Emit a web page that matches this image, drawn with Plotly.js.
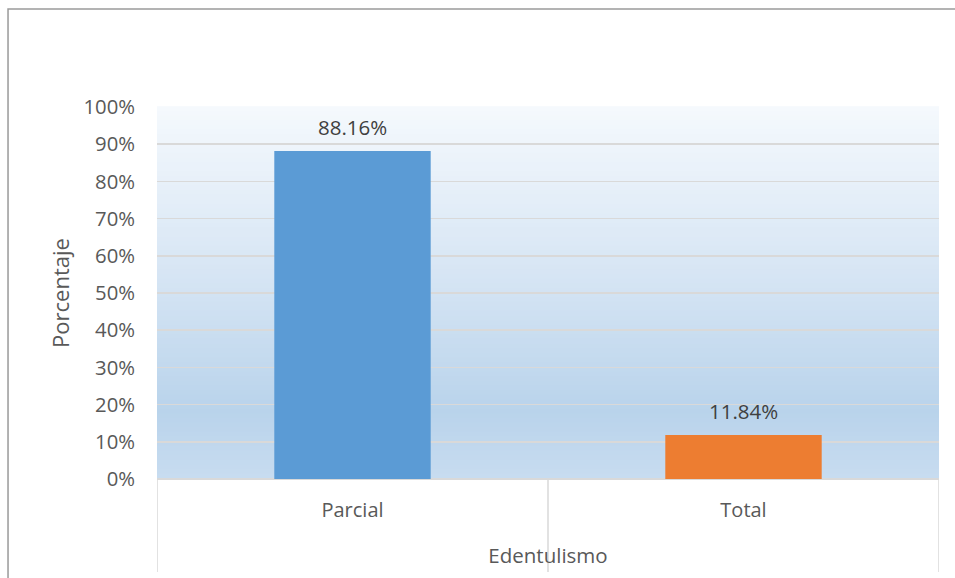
<!DOCTYPE html>
<html>
<head>
<meta charset="utf-8">
<script src="https://cdn.plot.ly/plotly-3.0.1.min.js"></script>
<style>
html,body{margin:0;padding:0;background:#fff;}
#chart{width:955px;height:578px;}
</style>
</head>
<body>
<div id="chart"></div>
<script>
// Data
const categories = ["Parcial", "Total"];
const values = [0.8816, 0.1184];
const labels = ["88.16%", "11.84%"];
const barColors = ["#5b9bd5", "#ed7d31"];
const yTickVals = [0, 0.1, 0.2, 0.3, 0.4, 0.5, 0.6, 0.7, 0.8, 0.9, 1.0];
const yTickText = ["0%", "10%", "20%", "30%", "40%", "50%", "60%", "70%", "80%", "90%", "100%"];
const xTitle = "Edentulismo";
const yTitle = "Porcentaje";

const FONT = "'Open Sans', sans-serif";

// gradient background as strips
function hexToRgb(h){h=h.replace('#','');return [parseInt(h.substr(0,2),16),parseInt(h.substr(2,2),16),parseInt(h.substr(4,2),16)];}
const gradStops = [[0,"#f5f9fd"],[0.5,"#d3e3f3"],[0.82,"#b9d3eb"],[1,"#c8dcf0"]];
function colorAt(t){
  for(let i=0;i<gradStops.length-1;i++){
    const [a,ca]=gradStops[i],[b,cb]=gradStops[i+1];
    if(t>=a&&t<=b){
      const f=(t-a)/(b-a),A=hexToRgb(ca),B=hexToRgb(cb);
      return `rgb(${Math.round(A[0]+(B[0]-A[0])*f)},${Math.round(A[1]+(B[1]-A[1])*f)},${Math.round(A[2]+(B[2]-A[2])*f)})`;
    }
  }
  return gradStops[gradStops.length-1][1];
}
const shapes = [];
const N = 80;
for(let i=0;i<N;i++){
  const yTop = 1 - i/N, yBot = 1 - (i+1)/N;
  shapes.push({type:'rect',xref:'paper',yref:'paper',x0:0,x1:1,y0:yBot,y1:yTop+0.002,
    fillcolor:colorAt((i+0.5)/N),line:{width:0},layer:'below'});
}
// category dividers
const nCat = categories.length;
for(let i=0;i<=nCat;i++){
  shapes.push({type:'line',xref:'x',yref:'paper',x0:i-0.5,x1:i-0.5,y0:0,y1:-0.25,
    line:{color:'#d9d9d9',width:1.5}});
}
// outer border
shapes.push({type:'path',xref:'paper',yref:'paper',
  path:'M -0.1905,-0.4 L -0.1905,1.2634 L 1.05,1.2634',
  line:{color:'#9a9a9a',width:1.5}});

const annotations = categories.map((c,i)=>({
  x:c, y:values[i], xref:'x', yref:'y', text:labels[i], showarrow:false,
  yanchor:'bottom', yshift:8, font:{family:FONT,size:20.5,color:'#404040'}
}));

const trace = {
  type:'bar', x:categories, y:values,
  marker:{color:barColors}, width:0.4, hoverinfo:'none'
};

const layout = {
  width:955, height:578,
  margin:{l:157,r:16,t:107,b:99},
  paper_bgcolor:'#ffffff', plot_bgcolor:'rgba(0,0,0,0)',
  font:{family:FONT,color:'#595959'},
  showlegend:false,
  xaxis:{
    type:'category', range:[-0.5,1.5], showgrid:false, zeroline:false,
    showline:false, ticks:'', ticklabelstandoff:17,
    tickfont:{family:FONT,size:20,color:'#595959'},
    title:{text:xTitle,standoff:26,font:{family:FONT,size:20.5,color:'#595959'}}
  },
  yaxis:{
    range:[0,1], tickvals:yTickVals, ticktext:yTickText,
    showgrid:true, gridcolor:'#d9d9d9', gridwidth:1.5,
    zeroline:true, zerolinecolor:'#d9d9d9', zerolinewidth:1.5,
    showline:false, ticks:'', ticklabelstandoff:21,
    tickfont:{family:FONT,size:20.3,color:'#595959'},
    title:{text:yTitle,standoff:7,font:{family:FONT,size:22,color:'#595959'}}
  },
  shapes:shapes, annotations:annotations
};

Plotly.newPlot('chart',[trace],layout,{staticPlot:true,displayModeBar:false});
</script>
</body>
</html>
